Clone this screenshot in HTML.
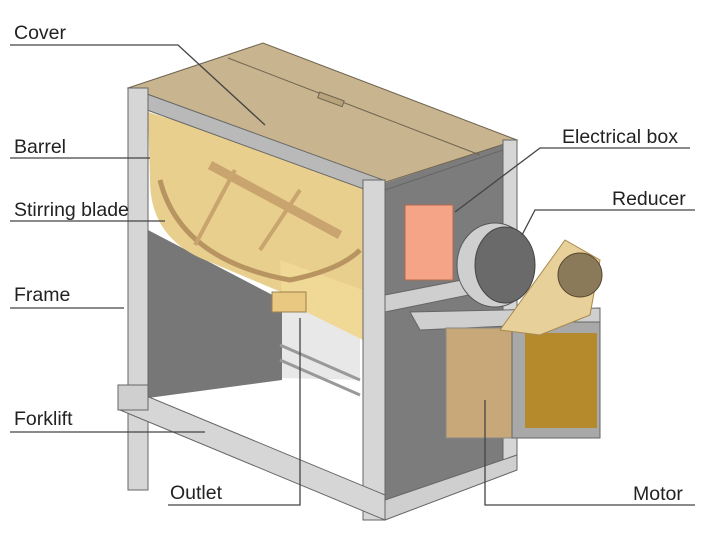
<!DOCTYPE html>
<html><head><style>
html,body{margin:0;padding:0;background:#fff;}
svg{display:block;}
text{font-family:"Liberation Sans",sans-serif;font-size:19.5px;fill:#222;}
</style></head><body>
<svg width="720" height="547" viewBox="0 0 720 547" xmlns="http://www.w3.org/2000/svg">
<polygon points="385,183 517,140 517,470 385,520" fill="#7c7c7c"/>
<polygon points="148,230 282,300 282,380 148,398" fill="#777"/>
<polygon points="282,300 360,330 360,380 282,378" fill="#e8e8e8"/>
<path d="M148,112 L363,180 L363,340 L300,300 L210,262 Q150,240 150,180 Z" fill="#e9cf8e"/>
<path d="M280,260 L363,290 L363,340 L282,300 Z" fill="#f0d896"/>
<path d="M160,180 Q180,260 290,280 Q340,270 360,250" fill="none" stroke="#b89460" stroke-width="5"/>
<line x1="210" y1="165" x2="340" y2="235" stroke="#c9a46e" stroke-width="9"/>
<line x1="235" y1="170" x2="195" y2="245" stroke="#c9a46e" stroke-width="4"/>
<line x1="300" y1="190" x2="260" y2="250" stroke="#c9a46e" stroke-width="4"/>
<rect x="272" y="292" width="34" height="20" fill="#e9c982" stroke="#9a8050"/>
<polygon points="128,88 263,43 517,140 383,183" fill="#c8b48e" stroke="#6f6450"/>
<line x1="228" y1="58" x2="480" y2="155" stroke="#6f6450"/>
<rect x="318" y="96" width="26" height="6" fill="#b9a37c" stroke="#6f6450" transform="rotate(20 330 99)"/>
<polygon points="147,94 383,180 383,196 147,110" fill="#b9b9b9" stroke="#666"/>
<rect x="128" y="88" width="20" height="402" fill="#d6d6d6" stroke="#666"/>
<rect x="363" y="180" width="22" height="340" fill="#d6d6d6" stroke="#666"/>
<rect x="503" y="140" width="14" height="330" fill="#d6d6d6" stroke="#666"/>
<polygon points="385,295 503,272 503,288 385,312" fill="#cfcfcf" stroke="#666"/>
<line x1="385" y1="190" x2="503" y2="150" stroke="#666"/>
<polygon points="120,385 385,495 385,520 120,410" fill="#d6d6d6" stroke="#666"/>
<rect x="118" y="385" width="30" height="25" fill="#cfcfcf" stroke="#666"/>
<polygon points="385,500 517,455 517,470 385,520" fill="#cfcfcf" stroke="#666"/>
<line x1="280" y1="345" x2="360" y2="380" stroke="#999" stroke-width="3"/>
<line x1="280" y1="360" x2="360" y2="395" stroke="#999" stroke-width="3"/>
<rect x="405" y="205" width="48" height="75" fill="#f6a488" stroke="#b06a50"/>
<ellipse cx="495" cy="265" rx="38" ry="42" fill="#cfcfcf" stroke="#555"/>
<ellipse cx="505" cy="265" rx="30" ry="38" fill="#6a6a6a" stroke="#444"/>
<polygon points="410,312 600,308 600,322 420,330" fill="#cfcfcf" stroke="#666"/>
<rect x="446" y="328" width="66" height="110" fill="#c8a878" stroke="#888"/>
<rect x="512" y="322" width="88" height="116" fill="#a8a8a8" stroke="#666"/>
<rect x="525" y="333" width="72" height="95" fill="#b58a2c"/>
<polygon points="500,330 565,240 600,260 590,315 540,335" fill="#e8d09a" stroke="#a8884c"/>
<circle cx="580" cy="275" r="22" fill="#8a7a5a" stroke="#5a4a30"/>
<g stroke="#444" stroke-width="1.3" fill="none">
<polyline points="10,45 178,45 265,125"/>
<polyline points="10,158 150,158"/>
<polyline points="10,221 165,221"/>
<polyline points="10,308 124,308"/>
<polyline points="10,432 205,432"/>
<polyline points="168,505 300,505 300,318"/>
<polyline points="690,148 540,148 455,212"/>
<polyline points="695,210 535,210 522,235"/>
<polyline points="695,505 485,505 485,400"/>
</g>
<text x="14" y="39">Cover</text>
<text x="14" y="153">Barrel</text>
<text x="14" y="216">Stirring blade</text>
<text x="14" y="301">Frame</text>
<text x="14" y="425">Forklift</text>
<text x="170" y="499">Outlet</text>
<text x="562" y="143">Electrical box</text>
<text x="612" y="205">Reducer</text>
<text x="633" y="500">Motor</text>
</svg>
</body></html>
